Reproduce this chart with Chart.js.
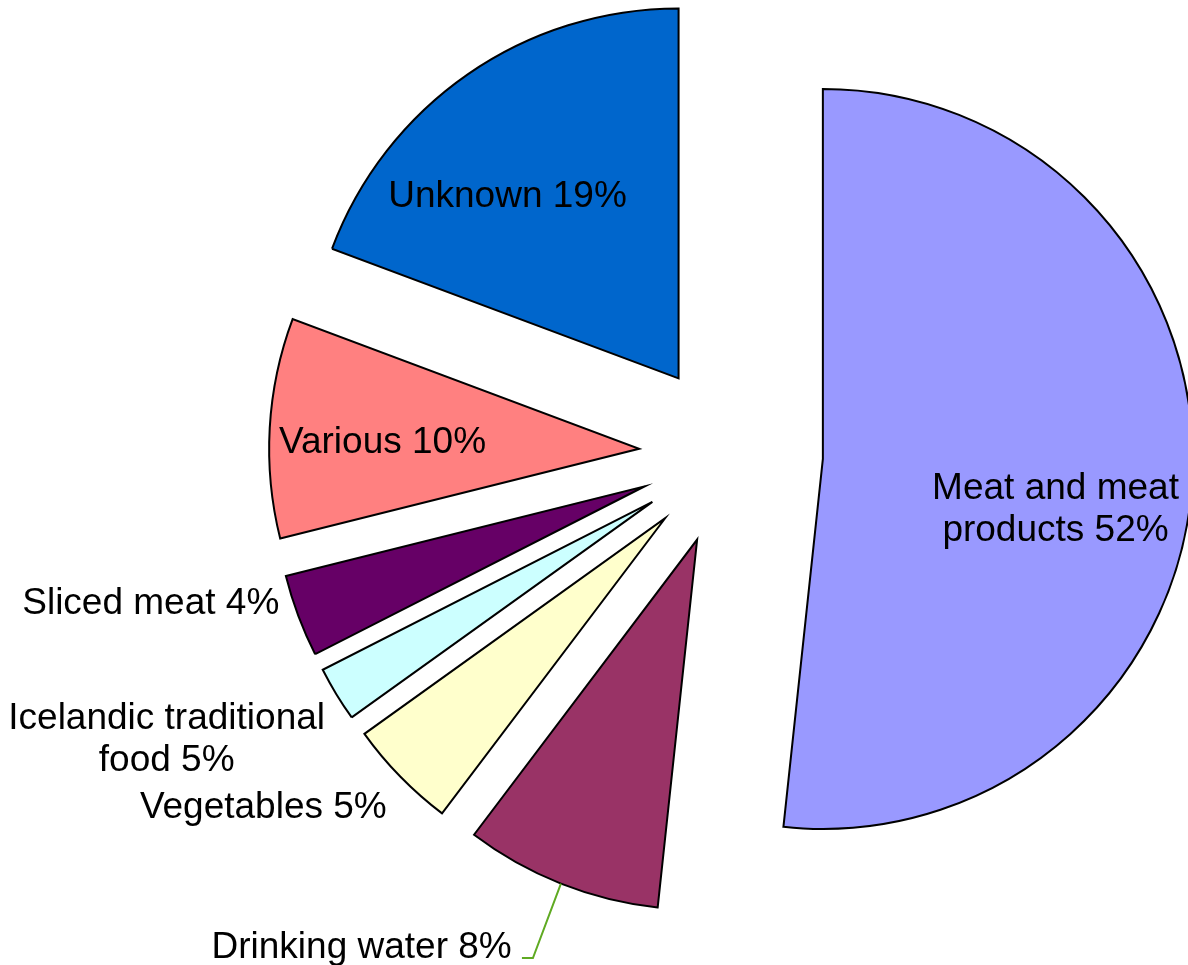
<!DOCTYPE html>
<html>
<head>
<meta charset="utf-8">
<script src="https://cdn.jsdelivr.net/npm/chart.js@4/dist/chart.umd.min.js"></script>
<style>
    html, body { margin: 0; padding: 0; background: #ffffff; }
    #wrap { width: 1188px; height: 965px; }
</style>
</head>
<body>
<div id="wrap"><canvas id="pieChart" width="1188" height="965"></canvas></div>
<script>
// --- Data ---
const categories = ['Meat and meat products', 'Drinking water', 'Vegetables', 'Icelandic traditional food', 'Sliced meat', 'Various', 'Unknown'];
const shares = [51.7, 8.6, 4.8, 2.4, 3.6, 9.6, 19.3];
const percentLabels = ['52%', '8%', '5%', '5%', '4%', '10%', '19%'];
const labelLines = [
    ['Meat and meat', 'products 52%'],
    ['Drinking water 8%'],
    ['Vegetables 5%'],
    ['Icelandic traditional', 'food 5%'],
    ['Sliced meat 4%'],
    ['Various 10%'],
    ['Unknown 19%']
];
const sliceColors = ['#9999FF', '#993366', '#FFFFCC', '#CCFFFF', '#660066', '#FF8080', '#0066CC'];

// --- Layout ---
const RADIUS = 370;
const EXPLODE = 92;
const FONT_SIZE = 37;
const LINE_HEIGHT = 42;
// k: fraction of radius along slice bisector, dx/dy: nudge, align: 'center' inside, 'right' outside
const labelLayout = [
    { k: 0.68, dx: -18.6, dy: 34.2, align: 'center' },
    { k: 1.0, dx: -49.2, dy: 61.2, align: 'right', leader: true },
    { k: 1.0, dx: -13.5, dy: 28.2, align: 'right' },
    { k: 1.0, dx: -11.3, dy: 42.8, align: 'right' },
    { k: 1.0, dx: -19, dy: -15, align: 'right' },
    { k: 0.68, dx: -5.4, dy: 5.1, align: 'center' },
    { k: 0.68, dx: -27.7, dy: 22, align: 'center' }
];

// draw each slice pushed out along its bisector
const explodePlugin = {
    id: 'explode',
    beforeDatasetDraw(chart, args) {
        const ctx = chart.ctx;
        args.meta.data.forEach(arc => {
            const mid = (arc.startAngle + arc.endAngle) / 2;
            ctx.save();
            ctx.translate(Math.cos(mid) * EXPLODE, Math.sin(mid) * EXPLODE);
            arc.draw(ctx, chart.chartArea);
            ctx.restore();
        });
        return false;
    }
};

const sliceLabelPlugin = {
    id: 'sliceLabels',
    afterDatasetsDraw(chart) {
        const ctx = chart.ctx;
        const arcs = chart.getDatasetMeta(0).data;
        ctx.save();
        ctx.font = FONT_SIZE + 'px "Liberation Sans", Arial, sans-serif';
        ctx.fillStyle = '#000000';
        ctx.textAlign = 'center';
        ctx.textBaseline = 'alphabetic';
        arcs.forEach((arc, i) => {
            const lay = labelLayout[i];
            const mid = (arc.startAngle + arc.endAngle) / 2;
            const cos = Math.cos(mid), sin = Math.sin(mid);
            const vx = arc.x + cos * EXPLODE;
            const vy = arc.y + sin * EXPLODE;
            const ax = vx + cos * arc.outerRadius * lay.k;
            const ay = vy + sin * arc.outerRadius * lay.k;
            const lines = labelLines[i];
            const widest = Math.max(...lines.map(l => ctx.measureText(l).width));
            let cx = ax + lay.dx;
            if (lay.align === 'right') cx = ax + lay.dx - widest / 2;
            const cy = ay + lay.dy;
            lines.forEach((line, j) => {
                const baseline = cy + (j - (lines.length - 1) / 2) * LINE_HEIGHT + 0.358 * FONT_SIZE;
                ctx.fillText(line, cx, baseline);
            });
            if (lay.leader) {
                ctx.beginPath();
                ctx.strokeStyle = '#5FAA22';
                ctx.lineWidth = 2;
                ctx.moveTo(ax, ay);
                ctx.lineTo(ax - 28, ay + 74.5);
                ctx.lineTo(ax - 39, ay + 74.5);
                ctx.stroke();
            }
        });
        ctx.restore();
    }
};

new Chart(document.getElementById('pieChart').getContext('2d'), {
    type: 'pie',
    data: {
        labels: categories,
        datasets: [{
            data: shares,
            backgroundColor: sliceColors,
            borderColor: '#000000',
            borderWidth: 2,
            borderJoinStyle: 'miter'
        }]
    },
    options: {
        responsive: false,
        animation: false,
        radius: RADIUS,
        layout: {
            padding: { left: 274, right: 0, top: 0, bottom: 57 }
        },
        plugins: {
            legend: { display: false },
            tooltip: { enabled: false }
        }
    },
    plugins: [explodePlugin, sliceLabelPlugin]
});
</script>
</body>
</html>
